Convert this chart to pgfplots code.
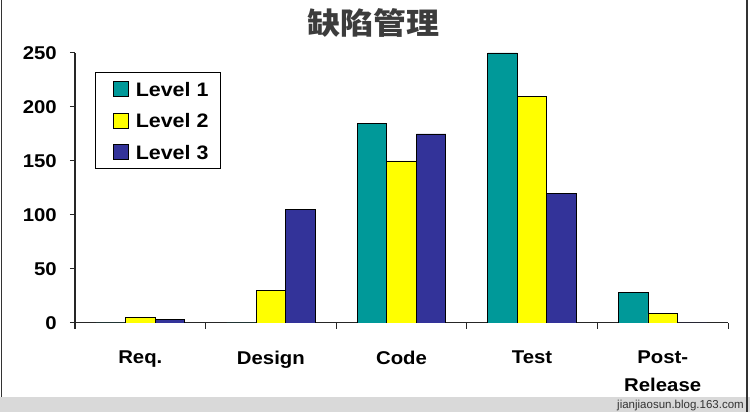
\documentclass[border=0pt]{standalone}
\usepackage{pgfplots}
\pgfplotsset{compat=1.18}
\usepackage{fontspec}
\setmainfont{Liberation Sans}
\newfontfamily\axfont{Liberation Sans}[FakeStretch=1.1]
\newfontfamily\cjk{Noto Sans CJK SC}[FakeStretch=1.1]
\definecolor{lvone}{HTML}{009999}
\definecolor{lvtwo}{HTML}{FFFF00}
\definecolor{lvthree}{HTML}{333399}
\definecolor{strip}{HTML}{D9D9D9}
\definecolor{titlegray}{HTML}{3C3C3C}
\pgfplotsset{mylegend/.style={legend image code/.code={\path[draw=none,fill=none] (-18pt,0) -- (0pt,0); \draw[##1] (0pt,-7.5pt) rectangle (15pt,7.5pt);}}}
\begin{document}
\begin{tikzpicture}[x=1pt,y=1pt]
\useasboundingbox (0,0) rectangle (750,412);
\fill[strip] (0,0) rectangle (750,15);
\draw[line width=1.5pt, black!80] (1.5,15) -- (1.5,412);
\draw[line width=1.5pt, black!80] (747,0) -- (747,412);
\node[font=\cjk\bfseries\fontsize{30}{34}\selectfont, text=titlegray] at (373.5,389) {缺陷管理};
\node[anchor=base east, font=\fontsize{11.5}{13}\selectfont, text=black!80, inner sep=0pt] at (744,3.5) {jianjiaosun.blog.163.com};
\begin{axis}[
  at={(75pt,89pt)}, anchor=south west,
  scale only axis, width=653pt, height=270pt,
  ybar=0pt, bar width=29.5pt,
  xmin=-0.5, xmax=4.5, ymin=0, ymax=250,
  axis x line=bottom, axis y line=left,
  axis line style={-, line width=1pt, black!85},
  tick style={line width=1pt, black!85},
  tick align=outside,
  major tick length=5pt, minor tick length=6pt,
  ytick={0,50,...,250},
  xtick={0,1,2,3,4},
  minor xtick={-0.5,0.5,1.5,2.5,3.5,4.5},
  major x tick style={draw=none},
  xticklabels={Req., Design, Code, Test, {Post-\\Release}},
  /pgf/number format/assume math mode=true,
  tick label style={font=\axfont\bfseries\fontsize{18.5}{28}\selectfont},
  xticklabel style={align=center, anchor=north, inner sep=0pt, yshift=-23pt},
  yticklabel style={anchor=east, inner sep=0pt, xshift=-13pt},
  legend style={at={(0.0306,0.9296)}, anchor=north west, draw=black, line width=0.8pt,
    inner xsep=0pt, inner ysep=5pt, row sep=7.9pt,
    font=\axfont\bfseries\fontsize{19.5}{22}\selectfont,
    nodes={inner sep=0pt, text height=19pt, text depth=4.4pt},
    /tikz/every odd column/.append style={column sep=7pt}},
  legend cell align=left,
]
\addplot[fill=lvone, draw=black, line width=0.8pt, mylegend] coordinates {(0,0) (1,0) (2,185) (3,250) (4,28)};
\addplot[fill=lvtwo, draw=black, line width=0.8pt, mylegend] coordinates {(0,5) (1,30) (2,150) (3,210) (4,9)};
\addplot[fill=lvthree, draw=black, line width=0.8pt, mylegend] coordinates {(0,3) (1,105) (2,175) (3,120) (4,0)};
\legend{\makebox[85pt][l]{Level 1},\makebox[85pt][l]{Level 2},\makebox[85pt][l]{Level 3}}
\end{axis}
\end{tikzpicture}
\end{document}
